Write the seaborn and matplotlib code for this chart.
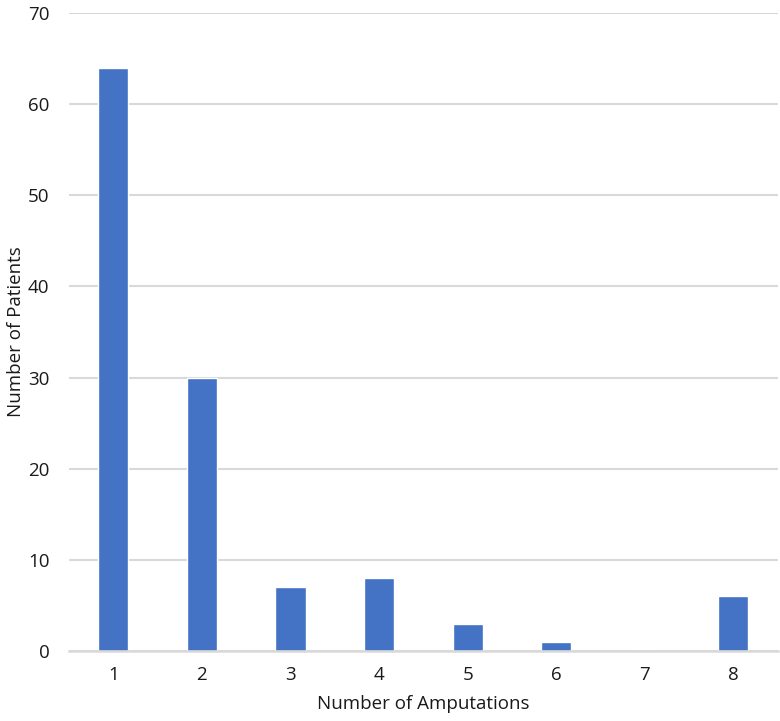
import matplotlib
matplotlib.use("Agg")
import matplotlib.pyplot as plt
import seaborn as sns
import pandas as pd
import numpy as np

# data
amputations = ["1", "2", "3", "4", "5", "6", "7", "8"]
patients = [64, 30, 7, 8, 3, 1, 0, 6]

df = pd.DataFrame({"Amputations": amputations, "Patients": patients})

sns.set_style("white")
plt.rcParams["font.family"] = ["Open Sans", "DejaVu Sans"]

fig = plt.figure(figsize=(7.8, 7.21), dpi=100)
ax = fig.add_axes([0.0885, 0.097, 0.9085, 0.885])

sns.barplot(data=df, x="Amputations", y="Patients", order=amputations,
            color="#4472C4", saturation=1, width=0.34, ax=ax, zorder=3)

ax.set_ylim(0, 70)
ax.set_xlim(-0.5, len(amputations) - 0.5)
ax.set_yticks(np.arange(0, 71, 10))
ax.yaxis.grid(True, color="#D9D9D9", linewidth=1.5, zorder=0)
ax.set_axisbelow(True)

for s in ["top", "right", "left"]:
    ax.spines[s].set_visible(False)
ax.spines["bottom"].set_color("#D9D9D9")
ax.spines["bottom"].set_linewidth(1.8)
ax.spines["bottom"].set_zorder(4)

# category boundary ticks
ax.set_xticks(np.arange(-0.5, len(amputations), 1), minor=True)
ax.tick_params(axis="x", which="minor", length=6, width=1.5, color="#D9D9D9")
ax.tick_params(axis="x", which="major", length=0, pad=11, labelsize=13.5, labelcolor="#1a1a1a")
ax.tick_params(axis="y", length=0, pad=14, labelsize=13.5, labelcolor="#1a1a1a")

ax.set_xlabel("Number of Amputations", fontsize=13.5, color="#1a1a1a", labelpad=8)
ax.set_ylabel("Number of Patients", fontsize=13.5, color="#1a1a1a", labelpad=2)

fig.savefig("out.png", dpi=100)
